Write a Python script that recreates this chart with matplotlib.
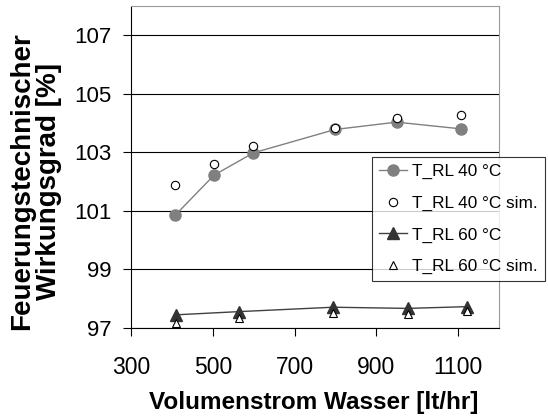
import matplotlib.pyplot as plt

plt.rcParams["font.family"] = ["Liberation Sans", "DejaVu Sans"]

# Messwerte und Simulation
x_40 = [408, 503, 599, 799, 949, 1107]
eta_40 = [100.85, 102.22, 102.98, 103.78, 104.03, 103.80]
eta_40_sim = [101.90, 102.59, 103.23, 103.84, 104.16, 104.27]

x_60 = [409, 564, 794, 976, 1122]
eta_60 = [97.45, 97.56, 97.71, 97.67, 97.73]
eta_60_sim = [97.16, 97.33, 97.50, 97.48, 97.58]

x_ticks = [300, 500, 700, 900, 1100]
y_ticks = [97, 99, 101, 103, 105, 107]

fig = plt.figure(figsize=(5.48, 4.2), dpi=100)
ax = fig.add_axes([0.239, 0.219, 0.672, 0.767])

ax.plot(x_40, eta_40, "-o", color="#808080", lw=1.0, ms=8,
        mfc="#808080", mec="#808080", label="T_RL 40 °C", zorder=3)
ax.plot(x_40, eta_40_sim, "o", ls="none", ms=6, mfc="white",
        mec="black", mew=0.8, label="T_RL 40 °C sim.", zorder=4)
ax.plot(x_60, eta_60, "-^", color="#404040", lw=1.0, ms=8,
        mfc="#333333", mec="#333333", label="T_RL 60 °C", zorder=3)
ax.plot(x_60, eta_60_sim, "^", ls="none", ms=6, mfc="white",
        mec="black", mew=0.8, label="T_RL 60 °C sim.", zorder=4)

ax.set_xlim(300, 1200)
ax.set_ylim(97, 108)
ax.set_xticks(x_ticks)
ax.set_yticks(y_ticks)
ax.tick_params(direction="out", length=6, width=0.8)
ax.tick_params(axis="x", labelsize=16.5, pad=14)
ax.tick_params(axis="y", labelsize=16, pad=8)
ax.grid(axis="y", color="black", lw=0.8)
ax.set_axisbelow(True)
for side in ("top", "right"):
    ax.spines[side].set_color("#999999")

fig.text(314 / 548, 18 / 420, "Volumenstrom Wasser [lt/hr]", fontsize=17.5,
         fontweight="bold", ha="center", va="center")
fig.text(36 / 548, 239 / 420, "Feuerungstechnischer\nWirkungsgrad [%]",
         fontsize=20, fontweight="bold", rotation=90, ha="center",
         va="center", multialignment="center", linespacing=1.05)

leg = ax.legend(loc="upper left", bbox_to_anchor=(372 / 548, 263 / 420),
                bbox_transform=fig.transFigure, fontsize=12.4, frameon=True,
                fancybox=False, edgecolor="black", borderaxespad=0,
                handlelength=1.6, labelspacing=0.95, handletextpad=0.3,
                borderpad=0.42)
leg.get_frame().set_linewidth(0.8)
leg.set_zorder(5)

fig.savefig("out.png", dpi=100)
